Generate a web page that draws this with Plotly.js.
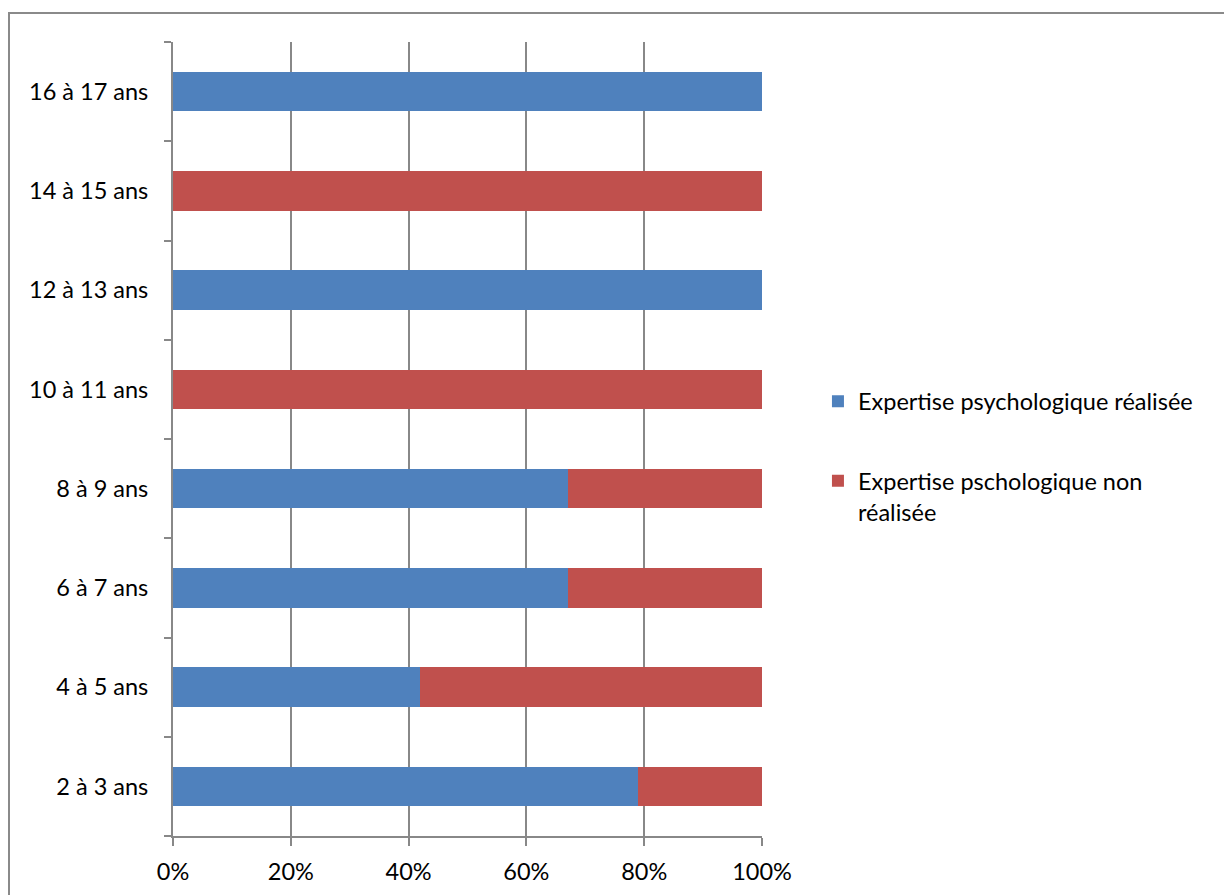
<!DOCTYPE html>
<html>
<head>
<meta charset="utf-8">
<script src="https://cdn.plot.ly/plotly-3.0.1.min.js"></script>
<style>
  html, body { margin: 0; padding: 0; background: #ffffff; overflow: hidden; }
  #frame { position: absolute; left: 8px; top: 12px; width: 1300px; height: 1000px;
           border-left: 2px solid #8a8a8a; border-top: 2px solid #8a8a8a; box-sizing: border-box; }
  #chart { position: absolute; left: 0; top: 0; width: 1224px; height: 895px; }
</style>
</head>
<body>
<div id="frame"></div>
<div id="chart"></div>
<script>
// Age groups, bottom to top
const ageGroups = ['2 à 3 ans', '4 à 5 ans', '6 à 7 ans', '8 à 9 ans',
                   '10 à 11 ans', '12 à 13 ans', '14 à 15 ans', '16 à 17 ans'];
// Share of cases (%) with a psychological assessment carried out
const realisee = [79, 42, 67, 67, 0, 100, 0, 100];
// Share of cases (%) without one
const nonRealisee = [21, 58, 33, 33, 100, 0, 100, 0];
const seriesNames = ['Expertise psychologique réalisée',
                     'Expertise pschologique non<br>réalisée'];
const xTicks = [0, 20, 40, 60, 80, 100];

const FONT = 'Lato, "Open Sans", sans-serif';
const SIZE = 23.5;

const traces = [
  { type: 'bar', orientation: 'h', y: ageGroups, x: realisee, name: seriesNames[0],
    marker: { color: '#4F81BD', line: { width: 0 } }, legendgroup: 'a', hoverinfo: 'skip' },
  { type: 'bar', orientation: 'h', y: ageGroups, x: nonRealisee, name: seriesNames[1],
    marker: { color: '#C0504D', line: { width: 0 } }, legendgroup: 'b', hoverinfo: 'skip' }
];

const layout = {
  width: 1224, height: 895,
  margin: { l: 173, r: 462, t: 42, b: 59 },
  paper_bgcolor: 'rgba(0,0,0,0)', plot_bgcolor: 'rgba(0,0,0,0)',
  barmode: 'stack', bargap: 0.6,
  font: { family: FONT, size: SIZE, color: '#000000' },
  showlegend: true,
  legend: { x: 1.095, y: 0.478, xanchor: 'left', yanchor: 'middle',
            traceorder: 'grouped', tracegroupgap: 46, valign: 'top',
            font: { family: FONT, size: SIZE, color: '#000000' },
            itemwidth: 30 },
  xaxis: {
    range: [0, 100], tickvals: xTicks, ticktext: xTicks.map(v => v + '%'),
    showgrid: true, gridcolor: '#888888', gridwidth: 2,
    showline: true, linecolor: '#888888', linewidth: 2,
    ticks: 'outside', ticklen: 8, tickcolor: '#888888', tickwidth: 2,
    ticklabelstandoff: 6, zeroline: false, fixedrange: true
  },
  yaxis: {
    type: 'category', categoryorder: 'array', categoryarray: ageGroups,
    range: [-0.5, 7.5], tickson: 'boundaries',
    showgrid: false, showline: true, linecolor: '#888888', linewidth: 2,
    ticks: 'outside', ticklen: 7, tickcolor: '#888888', tickwidth: 2,
    ticklabelstandoff: 18, zeroline: false, fixedrange: true
  }
};

Plotly.newPlot('chart', traces, layout, { displayModeBar: false, staticPlot: true });
</script>
</body>
</html>
